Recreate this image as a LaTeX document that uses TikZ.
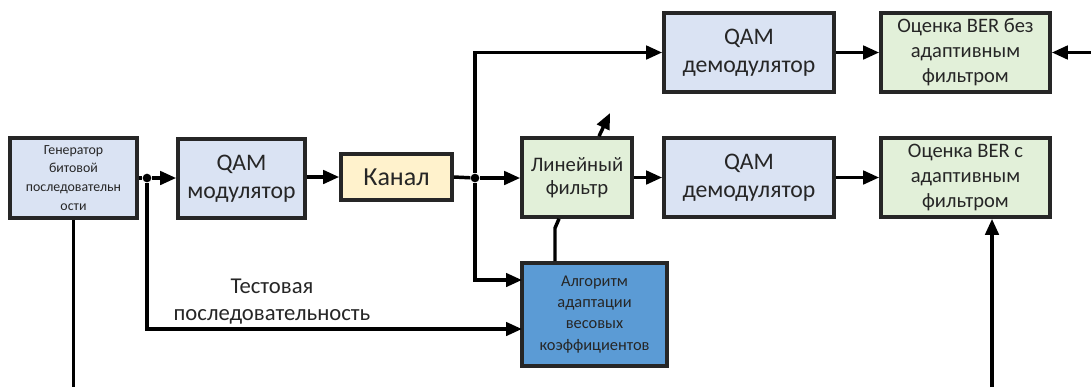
\documentclass[tikz,border=0pt]{standalone}
\usepackage{fontspec}
\setmainfont{Carlito}
\usepackage{tikz}
\usetikzlibrary{arrows.meta}

\definecolor{modblue}{RGB}{218,227,243}
\definecolor{kanyellow}{RGB}{255,242,204}
\definecolor{filtgreen}{RGB}{226,240,217}
\definecolor{algblue}{RGB}{91,155,213}
\definecolor{txtgray}{RGB}{38,38,38}

\tikzset{
  blk/.style={draw=txtgray, line width=2.7pt, align=center, inner sep=1pt, text=txtgray},
  wire/.style={line width=2.6pt},
  arr/.style={wire, -{Triangle[length=12pt,width=10pt]}},
  jdot/.style={circle, fill=black, inner sep=0pt, minimum size=6.5pt}
}

\begin{document}
\begin{tikzpicture}[x=0.75pt,y=0.75pt,yscale=-1,xscale=1]
        \useasboundingbox (0,0) rectangle (1091,387);

        %Shape: Rectangle [gen]
        \node [blk, fill=modblue, minimum width=95.25pt, minimum height=60pt, font=\fontsize{10.4}{14.2}\selectfont] (gen) at (73.5,178) {Генератор\\битовой\\последовательн\\ости};
        %Shape: Rectangle [mod]
        \node [blk, fill=modblue, minimum width=95.25pt, minimum height=59.25pt, font=\fontsize{17.8}{21}\selectfont] (mod) at (241.5,178.5) {QAM\\модулятор};
        %Shape: Rectangle [kanal]
        \node [blk, fill=kanyellow, minimum width=83.25pt, minimum height=34.5pt, font=\fontsize{19.5}{23}\selectfont] (kanal) at (396.5,177) {Канал};
        %Shape: Rectangle [filt]
        \node [blk, fill=filtgreen, minimum width=82.5pt, minimum height=59.25pt, font=\fontsize{15.5}{17.5}\selectfont] (filt) at (577,177.5) {Линейный\\фильтр};
        %Shape: Rectangle [demA]
        \node [blk, fill=modblue, minimum width=127.5pt, minimum height=59.25pt, font=\fontsize{17.8}{21}\selectfont] (demA) at (749,52.5) {QAM\\демодулятор};
        %Shape: Rectangle [demB]
        \node [blk, fill=modblue, minimum width=127.5pt, minimum height=59.25pt, font=\fontsize{17.8}{21}\selectfont] (demB) at (749,177.5) {QAM\\демодулятор};
        %Shape: Rectangle [berA]
        \node [blk, fill=filtgreen, minimum width=126.75pt, minimum height=59.25pt, font=\fontsize{15.4}{18.7}\selectfont] (berA) at (965.5,52.5) {Оценка BER без\\адаптивным\\фильтром};
        %Shape: Rectangle [berB]
        \node [blk, fill=filtgreen, minimum width=126.75pt, minimum height=59.25pt, font=\fontsize{15.4}{18.7}\selectfont] (berB) at (965.5,177.5) {Оценка BER с\\адаптивным\\фильтром};
        %Shape: Rectangle [alg]
        \node [blk, fill=algblue, minimum width=108.75pt, minimum height=77.25pt, font=\fontsize{12.3}{15.8}\selectfont] (alg) at (594.5,314.5) {Алгоритм\\адаптации\\весовых\\коэффициентов};

        % junctions and free ends
        \node [jdot] (j1) at (147,178) {};
        \node [jdot] (j2) at (475,178) {};
        \coordinate (algin) at (522,280);
        \coordinate (testin) at (522,329);
        \coordinate (adj) at (610,113);
        \coordinate (berAin) at (1091,52.5);
        \coordinate (berBin) at (992,387);
        \coordinate (genout) at (73.5,387);

        % main path
        \draw [wire] (gen.east |- j1) -- (j1);
        \draw [arr] (j1) -- (mod.west |- j1);
        \draw [arr] (mod.east |- kanal) -- (kanal.west);
        \draw [wire] (kanal.east) -- (j2);
        \draw [arr] (j2) -- (filt.west |- j2);
        \draw [arr] (j2) |- (demA.west);
        \draw [arr] (j2) |- (algin);
        \draw [arr] (filt.east) -- (demB.west);
        \draw [arr] (demA.east) -- (berA.west);
        \draw [arr] (demB.east) -- (berB.west);
        \draw [arr] (berAin) -- (berA.east);
        \draw [arr] (berBin) -- (berBin |- berB.south);
        \draw [wire] (gen.south) -- (genout);
        \draw [arr] (filt.north -| 599,0) -- (adj);
        \draw [wire] (filt.south -| 559,0) -- (555,228) -- (alg.north -| 555,0);

        % test sequence
        \draw [arr] (j1) |- (testin);
        % Text Node
        \node [anchor=south, align=center, inner sep=1pt, text=txtgray, font=\fontsize{17}{20.5}\selectfont] (testlbl) at (272,326) {Тестовая\\последовательность};

\end{tikzpicture}
\end{document}
